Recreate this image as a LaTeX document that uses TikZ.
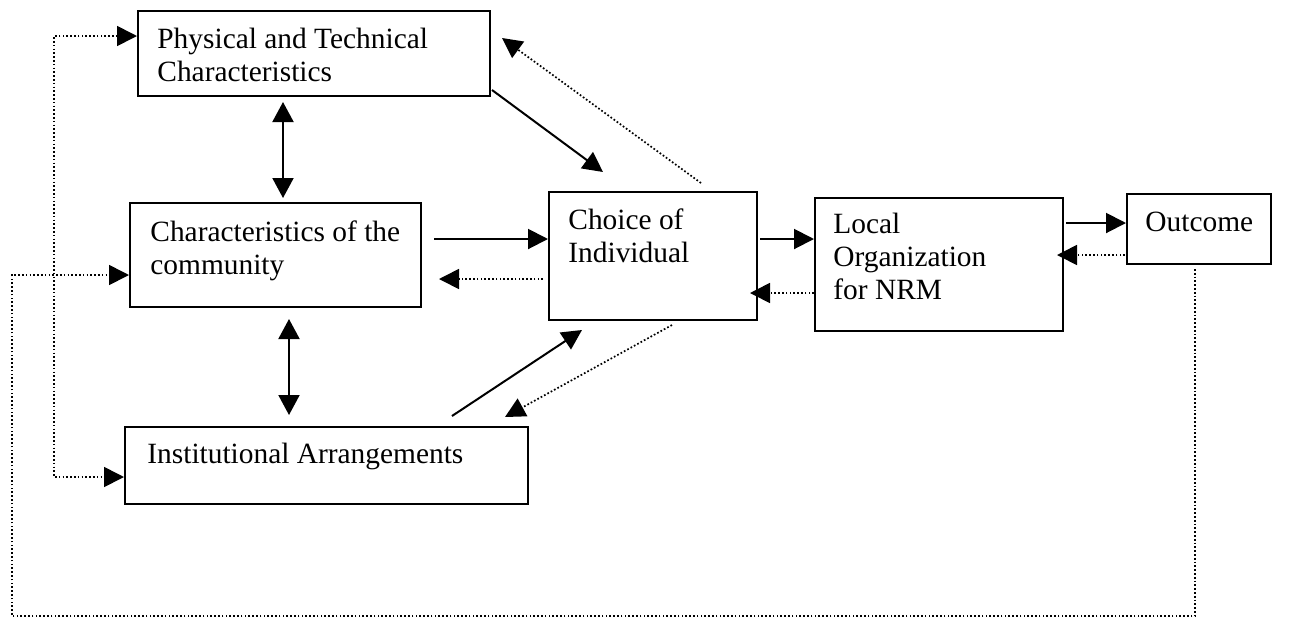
\documentclass[tikz,border=0pt]{standalone}
\usepackage{fontspec}
\setmainfont{Liberation Serif}
\usetikzlibrary{arrows.meta,calc}

\begin{document}
\begin{tikzpicture}[x=0.5pt,y=-0.5pt,
  blk/.style={rectangle,draw=black,fill=white,line width=1pt,anchor=north west,inner sep=0pt},
  txt/.style={anchor=north west,inner sep=0pt,align=left,font=\fontsize{14.7}{16.5}\selectfont},
  solidarrow/.style={-{Triangle[length=10pt,width=10pt]},line width=1pt},
  bothways/.style={{Triangle[length=10pt,width=10.5pt]}-{Triangle[length=10pt,width=10.5pt]},line width=1pt},
  dotarrow/.style={-{Triangle[length=10pt,width=10pt]},line width=0.85pt,dash pattern=on 0.85pt off 1.05pt}]
  \useasboundingbox (0,0) rectangle (1314,618);
  \node[blk,minimum width=176pt,minimum height=42.5pt] (phys) at (137,10) {};
  \node[txt] (phys-t) at ($(phys.north west)+(20,18)$) {Physical and Technical\\Characteristics};
  \node[blk,minimum width=145.5pt,minimum height=52pt] (comm) at (129,202) {};
  \node[txt] (comm-t) at ($(comm.north west)+(21,18)$) {Characteristics of the\\community};
  \node[blk,minimum width=201.5pt,minimum height=38.5pt] (inst) at (124,426) {};
  \node[txt] (inst-t) at ($(inst.north west)+(23,17)$) {Institutional Arrangements};
  \node[blk,minimum width=104pt,minimum height=64pt] (choice) at (548,191) {};
  \node[txt] (choice-t) at ($(choice.north west)+(20,17)$) {Choice of\\Individual};
  \node[blk,minimum width=124pt,minimum height=66.5pt] (local) at (814,197) {};
  \node[txt] (local-t) at ($(local.north west)+(19,16)$) {Local\\Organization\\for NRM};
  \node[blk,minimum width=72pt,minimum height=35pt] (outcome) at (1126,193) {};
  \node[txt] (outcome-t) at ($(outcome.north west)+(19,19)$) {Outcome};
  \coordinate (loopbottom) at (12,616);
  \draw[bothways] ($(phys.south west)+(146,5)$) -- ($(comm.north west)+(154,-4)$);
  \draw[bothways] ($(comm.south west)+(160,11)$) -- ($(inst.north west)+(165,-11)$);
  \draw[solidarrow] ($(phys.south east)+(1,-7)$) -- ($(choice.north west)+(55,-19)$);
  \draw[dotarrow] ($(choice.north west)+(153,-8)$) -- ($(phys.north east)+(11,28)$);
  \draw[solidarrow] ($(comm.north east)+(12,37)$) -- ($(choice.north west)+(0,48)$);
  \draw[dotarrow] ($(choice.north west)+(-5,88)$) -- ($(comm.north east)+(17,77)$);
  \draw[solidarrow] ($(inst.north west)+(328,-10)$) -- ($(choice.south west)+(34,9)$);
  \draw[dotarrow] ($(choice.south west)+(124,4)$) -- ($(inst.north east)+(-24,-9)$);
  \draw[solidarrow] ($(choice.north east)+(2,48)$) -- ($(local.north west)+(0,42)$);
  \draw[dotarrow] ($(local.north west)+(0,96)$) -- ($(choice.north east)+(-8,102)$);
  \draw[solidarrow] ($(local.north east)+(2,26)$) -- ($(outcome.north west)+(0,30)$);
  \draw[dotarrow] ($(outcome.north west)+(-1,62)$) -- ($(local.north east)+(-7,58)$);
  \draw[dotarrow] ($(outcome.south west)+(69,4)$) |- (loopbottom) |- ($(comm.north west)+(0,73)$);
  \draw[dotarrow,{Triangle[length=10pt,width=10pt]}-{Triangle[length=10pt,width=10pt]}] ($(phys.north west)+(0,26)$) -| ($(inst.north west)+(-70,51)$) -- ($(inst.north west)+(0,51)$);
\end{tikzpicture}
\end{document}
